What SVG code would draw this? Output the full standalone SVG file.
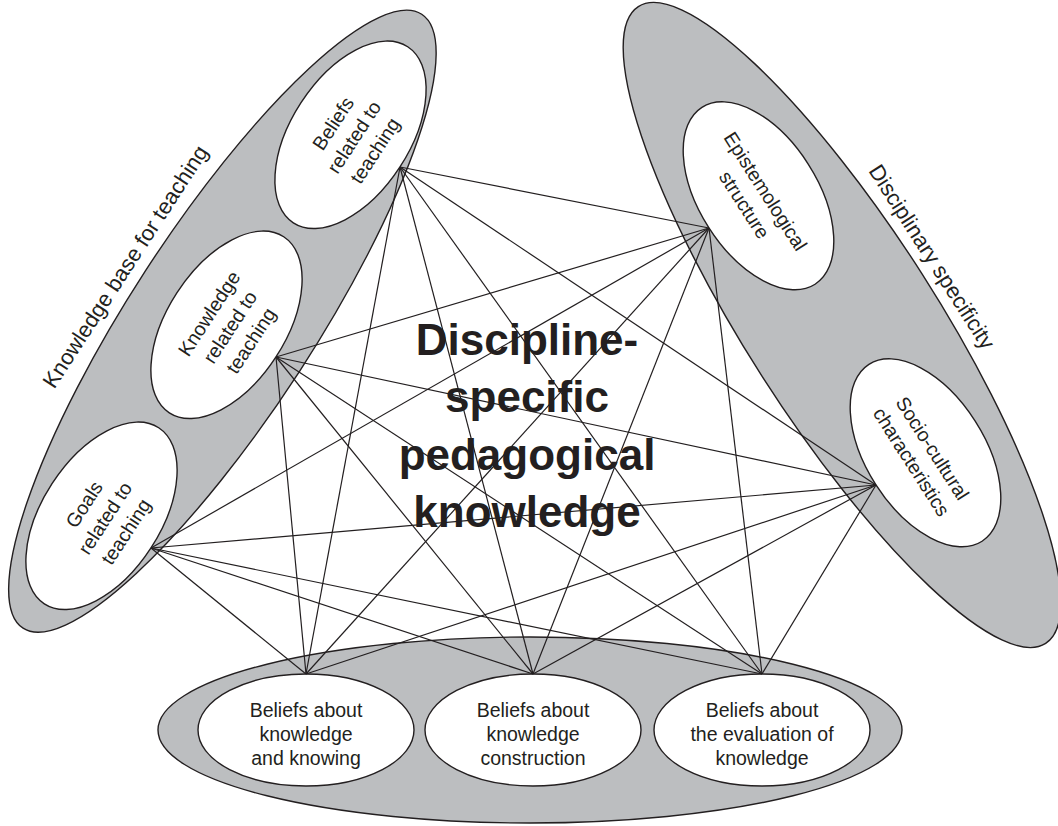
<svg xmlns="http://www.w3.org/2000/svg" width="1058" height="826" viewBox="0 0 1058 826">
<style>
.big{fill:#bcbec0;stroke:#231f20;stroke-width:1.4}
.inner{fill:#fff;stroke:#231f20;stroke-width:1.4}
.t{font-family:"Liberation Sans",Arial,sans-serif;font-size:19.5px;fill:#231f20;text-anchor:middle}
.lbl{font-family:"Liberation Sans",Arial,sans-serif;font-size:22px;fill:#231f20;text-anchor:middle}
.title{font-family:"Liberation Sans",Arial,sans-serif;font-size:44px;font-weight:bold;fill:#231f20;text-anchor:middle}
#connectors line{stroke:#231f20;stroke-width:1.2}
</style>
<rect width="1058" height="826" fill="#fff"/>

<g id="knowledge-base">
<ellipse class="big" rx="366" ry="92" transform="translate(222.4 321.2) rotate(-57)"/>
<text class="lbl" transform="translate(131.6 270.7) rotate(-57)">Knowledge base for teaching</text>
</g>
<g id="disciplinary-specificity">
<ellipse class="big" rx="378" ry="95" transform="translate(842 325) rotate(57.4)"/>
<text class="lbl" transform="translate(925.6 260.8) rotate(57.4)">Disciplinary specificity</text>
</g>
<g id="epistemic-beliefs">
<ellipse class="big" cx="530" cy="730" rx="372" ry="93"/>
</g>

<g id="beliefs-teaching" transform="translate(350.5 134.8) rotate(-57)">
<ellipse class="inner" rx="105" ry="59"/>
<text class="t"><tspan x="0" y="-14">Beliefs</tspan><tspan x="0" y="11">related to</tspan><tspan x="0" y="36">teaching</tspan></text>
</g>
<g id="knowledge-teaching" transform="translate(226.5 324.8) rotate(-57)">
<ellipse class="inner" rx="105" ry="59"/>
<text class="t"><tspan x="0" y="-14">Knowledge</tspan><tspan x="0" y="11">related to</tspan><tspan x="0" y="36">teaching</tspan></text>
</g>
<g id="goals-teaching" transform="translate(101.5 515.8) rotate(-57)">
<ellipse class="inner" rx="105" ry="59"/>
<text class="t"><tspan x="0" y="-14">Goals</tspan><tspan x="0" y="11">related to</tspan><tspan x="0" y="36">teaching</tspan></text>
</g>
<g id="epistemological-structure" transform="translate(758.5 195.8) rotate(57.4)">
<ellipse class="inner" rx="105" ry="59"/>
<text class="t"><tspan x="0" y="-1.5">Epistemological</tspan><tspan x="0" y="23.5">structure</tspan></text>
</g>
<g id="socio-cultural" transform="translate(925.5 452.8) rotate(57.4)">
<ellipse class="inner" rx="105" ry="59"/>
<text class="t"><tspan x="0" y="-1.5">Socio-cultural</tspan><tspan x="0" y="23.5">characteristics</tspan></text>
</g>
<g id="beliefs-knowing">
<ellipse class="inner" cx="306" cy="730" rx="108" ry="56"/>
<text class="t"><tspan x="306" y="717">Beliefs about</tspan><tspan x="306" y="741">knowledge</tspan><tspan x="306" y="765">and knowing</tspan></text>
</g>
<g id="beliefs-construction">
<ellipse class="inner" cx="533" cy="730" rx="108" ry="56"/>
<text class="t"><tspan x="533" y="717">Beliefs about</tspan><tspan x="533" y="741">knowledge</tspan><tspan x="533" y="765">construction</tspan></text>
</g>
<g id="beliefs-evaluation">
<ellipse class="inner" cx="762" cy="730" rx="108" ry="56"/>
<text class="t"><tspan x="762" y="717">Beliefs about</tspan><tspan x="762" y="741">the evaluation of</tspan><tspan x="762" y="765">knowledge</tspan></text>
</g>

<g id="connectors">
<line x1="400" y1="167" x2="709" y2="228"/>
<line x1="400" y1="167" x2="876" y2="485"/>
<line x1="400" y1="167" x2="306" y2="674"/>
<line x1="400" y1="167" x2="533" y2="674"/>
<line x1="400" y1="167" x2="762" y2="674"/>
<line x1="276" y1="357" x2="709" y2="228"/>
<line x1="276" y1="357" x2="876" y2="485"/>
<line x1="276" y1="357" x2="306" y2="674"/>
<line x1="276" y1="357" x2="533" y2="674"/>
<line x1="276" y1="357" x2="762" y2="674"/>
<line x1="151" y1="548" x2="709" y2="228"/>
<line x1="151" y1="548" x2="876" y2="485"/>
<line x1="151" y1="548" x2="306" y2="674"/>
<line x1="151" y1="548" x2="533" y2="674"/>
<line x1="151" y1="548" x2="762" y2="674"/>
<line x1="709" y1="228" x2="306" y2="674"/>
<line x1="709" y1="228" x2="533" y2="674"/>
<line x1="709" y1="228" x2="762" y2="674"/>
<line x1="876" y1="485" x2="306" y2="674"/>
<line x1="876" y1="485" x2="533" y2="674"/>
<line x1="876" y1="485" x2="762" y2="674"/>
</g>

<g id="center-title">
<text class="title"><tspan x="527" y="355">Discipline-</tspan><tspan x="527" y="412">specific</tspan><tspan x="527" y="470">pedagogical</tspan><tspan x="527" y="527">knowledge</tspan></text>
</g>
</svg>
